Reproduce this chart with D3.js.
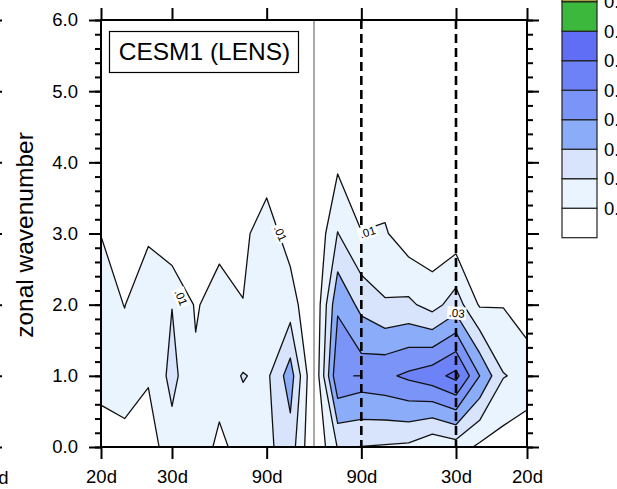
<!DOCTYPE html>
<html><head><meta charset="utf-8">
<script src="https://cdn.jsdelivr.net/npm/d3@7"></script>
<style>body{margin:0;background:#fff;overflow:hidden} text{font-family:'Liberation Sans',Arial,Helvetica,sans-serif}</style>
</head><body>
<svg id="c" width="617" height="489"></svg>
<script>
// ---------- data ----------
const wavenumbers = [0, 1, 2, 3, 4, 5, 6];
// frequency grid in cycles/day (resolution 1/180 cpd), westward negative, eastward positive
const freqSteps = [-9, -8, -7, -6, -5, -4, -3, -2, -1, 0, 1, 2, 3, 4, 5, 6, 7, 8, 9];
const freqResolution = 1 / 180;
// power for each wavenumber row, one value per frequency column
const power_wn0 = [0.0050,0.0060,0.0050,0.0160,0.0180,0.0070,0.0150,0.0176,0.0254,0,0.0205,0.0198,0.0190,0.0180,0.0120,0.0150,0.0080,0.0055,0.0020];
const power_wn1 = [0.0135,0.0160,0.0110,0.0230,0.0116,0.0155,0.0205,0.0178,0.0350,0,0.0490,0.0460,0.0480,0.0520,0.0560,0.0630,0.0400,0.0205,0.0174];
const power_wn2 = [0.0150,0.0097,0.0190,0.0198,0.0090,0.0145,0.0102,0.0150,0.0150,0,0.0383,0.0270,0.0210,0.0220,0.0160,0.0250,0.0089,0.0095,0.0030];
const power_wn3 = [0.0098,0.0050,0.0080,0.0020,0.0050,0.0066,0.0080,0.0147,0.0056,0,0.0203,0.0102,0.0110,0.0041,0.0030,0.0040,0.0040,0.0030,0.0020];
const power_wn4 = [0.0060,0.0040,0.0040,0.0030,0.0030,0.0035,0.0040,0.0053,0.0030,0,0.0080,0.0050,0.0045,0.0020,0.0015,0.0015,0.0015,0.0010,0.0010];
const power_wn5 = [0.0035,0.0030,0.0030,0.0025,0.0025,0.0030,0.0030,0.0035,0.0025,0,0.0040,0.0030,0.0030,0.0015,0.0010,0.0010,0.0010,0.0010,0.0008];
const power_wn6 = [0.0025,0.0020,0.0020,0.0020,0.0020,0.0020,0.0020,0.0025,0.0020,0,0.0030,0.0020,0.0020,0.0010,0.0010,0.0008,0.0008,0.0008,0.0005];
const levels = [0.01, 0.02, 0.03, 0.04, 0.05, 0.06, 0.07];
const levelColors = ['#eaf4fe', '#d8e3fc', '#8badf9', '#7b94f8', '#6c82f6', '#5f6ef5', '#3cb93c'];
const belowColor = '#ffffff';
const legendLabels = ['0.01', '0.02', '0.03', '0.04', '0.05', '0.06', '0.07', '0.08'];
const legendTopColor = '#a3a33c';
const periodTicks = [-20, -30, -90, 90, 30, 20];
const periodLabels = ['20d', '30d', '90d', '90d', '30d', '20d'];
const dashedPeriods = [90, 30];
const wnTicks = [0, 1, 2, 3, 4, 5, 6];
const contourLabels = [
  {freq: -0.0312, wn: 2.10, angle: 68, text: '.01'},
  {freq: -0.0079, wn: 3.00, angle: 66, text: '.01'},
  {freq: 0.0126, wn: 3.02, angle: -18, text: '.01'},
  {freq: 0.0335, wn: 1.88, angle: 5, text: '.03'}
];

// ---------- layout ----------
const svg = d3.select('#c');
const X0 = 101, X1 = 527, Y0 = 20, Y1 = 447;
const freqs = freqSteps.map(k => k * freqResolution);
const x = d3.scaleLinear().domain([-0.05, 0.05]).range([X0, X1]);
const y = d3.scaleLinear().domain([0, 6]).range([Y1, Y0]);

svg.append('defs').append('clipPath').attr('id', 'clip')
  .append('rect').attr('x', X0).attr('y', Y0).attr('width', X1 - X0).attr('height', Y1 - Y0);

// ---------- contours ----------
const rows = [power_wn0, power_wn1, power_wn2, power_wn3, power_wn4, power_wn5, power_wn6];
const nx = freqs.length, ny = wavenumbers.length;
const grid = rows.flat();
const colToFreq = d3.scaleLinear().domain([0.5, nx - 0.5]).range([freqs[0], freqs[nx - 1]]);
const rowToWn = d3.scaleLinear().domain([0.5, ny - 0.5]).range([wavenumbers[0], wavenumbers[ny - 1]]);
const proj = d3.geoTransform({point(px, py) { this.stream.point(x(colToFreq(px)), y(rowToWn(py))); }});
const path = d3.geoPath(proj);
const contours = d3.contours().size([nx, ny]).thresholds(levels)(grid);

const plot = svg.append('g').attr('clip-path', 'url(#clip)');
plot.append('rect').attr('x', X0).attr('y', Y0).attr('width', X1 - X0).attr('height', Y1 - Y0).attr('fill', belowColor);
plot.selectAll('path.fill').data(contours).join('path').attr('class', 'fill')
  .attr('d', path).attr('fill', (d, i) => levelColors[i]).attr('stroke', 'none');
plot.selectAll('path.line').data(contours).join('path').attr('class', 'line')
  .attr('d', path).attr('fill', 'none').attr('stroke', '#111').attr('stroke-width', 1.3).attr('stroke-linejoin', 'round');

// zero-frequency line
plot.append('line').attr('x1', x(0)).attr('x2', x(0)).attr('y1', Y0).attr('y2', Y1)
  .attr('stroke', '#555').attr('stroke-width', 1);

// dashed period lines
plot.selectAll('line.dash').data(dashedPeriods).join('line').attr('class', 'dash')
  .attr('x1', d => x(1 / d)).attr('x2', d => x(1 / d)).attr('y1', Y0).attr('y2', Y1)
  .attr('stroke', '#000').attr('stroke-width', 2.6).attr('stroke-dasharray', '9,5');

// small marker near 90d at wavenumber 1
plot.append('line').attr('x1', x(1 / 90) - 8).attr('x2', x(1 / 90)).attr('y1', y(1)).attr('y2', y(1))
  .attr('stroke', '#000').attr('stroke-width', 1.2);

// contour labels
contourLabels.forEach(l => {
  const g = svg.append('g').attr('transform', `translate(${x(l.freq)},${y(l.wn)}) rotate(${l.angle})`);
  g.append('rect').attr('x', -9.5).attr('y', -6.5).attr('width', 19).attr('height', 13).attr('fill', '#fff');
  g.append('text').attr('text-anchor', 'middle').attr('dy', '0.35em').attr('font-size', 11.5).text(l.text);
});

// ---------- axes ----------
const minorWn = d3.range(0, 6.001, 0.2);
function styleAxis(g) { g.select('.domain').remove(); g.selectAll('line').attr('stroke', '#000').attr('stroke-width', 2); }
const yAxisL = svg.append('g').attr('transform', `translate(${X0},0)`)
  .call(d3.axisLeft(y).tickValues(minorWn).tickSize(6).tickFormat(''));
styleAxis(yAxisL);
const yAxisL2 = svg.append('g').attr('transform', `translate(${X0},0)`)
  .call(d3.axisLeft(y).tickValues(wnTicks).tickSize(12).tickPadding(11).tickFormat(d3.format('.1f')));
styleAxis(yAxisL2);
yAxisL2.selectAll('text').attr('font-size', 18.5).attr('fill', '#000');
const yAxisR = svg.append('g').attr('transform', `translate(${X1},0)`)
  .call(d3.axisRight(y).tickValues(minorWn).tickSize(6).tickFormat(''));
styleAxis(yAxisR);
const yAxisR2 = svg.append('g').attr('transform', `translate(${X1},0)`)
  .call(d3.axisRight(y).tickValues(wnTicks).tickSize(12).tickFormat(''));
styleAxis(yAxisR2);
const xB = svg.append('g').attr('transform', `translate(0,${Y1})`)
  .call(d3.axisBottom(x).tickValues(periodTicks.map(p => 1 / p)).tickSize(12).tickPadding(11)
    .tickFormat((d, i) => periodLabels[i]));
styleAxis(xB);
xB.selectAll('text').attr('font-size', 18.5).attr('fill', '#000');
const xT = svg.append('g').attr('transform', `translate(0,${Y0})`)
  .call(d3.axisTop(x).tickValues(periodTicks.map(p => 1 / p)).tickSize(12).tickFormat(''));
styleAxis(xT);

// frame
svg.append('rect').attr('x', X0).attr('y', Y0).attr('width', X1 - X0).attr('height', Y1 - Y0)
  .attr('fill', 'none').attr('stroke', '#000').attr('stroke-width', 2);

// axis title
svg.append('text').attr('transform', `translate(33,235) rotate(-90)`)
  .attr('text-anchor', 'middle').attr('font-size', 24.5).text('zonal wavenumber');

// panel title box
const tb = svg.append('g');
tb.append('rect').attr('x', 109.5).attr('y', 31.5).attr('width', 189).attr('height', 41)
  .attr('fill', '#fff').attr('stroke', '#000').attr('stroke-width', 1.2);
tb.append('text').attr('x', 204.5).attr('y', 60).attr('text-anchor', 'middle').attr('font-size', 24.5).text('CESM1 (LENS)');

// ---------- neighbouring panel remnants at left edge ----------
const yN = svg.append('g').attr('transform', `translate(-12,0)`)
  .call(d3.axisRight(y).tickValues(wnTicks).tickSize(14).tickFormat(''));
styleAxis(yN);
svg.append('text').attr('x', -7).attr('y', 484).attr('text-anchor', 'middle').attr('font-size', 18.5).text('20d');

// ---------- label bar ----------
const LX = 562, LW = 35, LH = 29.5, LB = 237.7;
const legendColors = [belowColor, ...levelColors, legendTopColor];
const lg = svg.append('g');
legendColors.forEach((c, i) => {
  lg.append('rect').attr('x', LX).attr('y', LB - (i + 1) * LH).attr('width', LW).attr('height', LH)
    .attr('fill', c).attr('stroke', '#222').attr('stroke-width', 1.2);
});
legendLabels.forEach((t, i) => {
  lg.append('text').attr('x', LX + LW + 7).attr('y', LB - (i + 1) * LH).attr('dy', '0.35em')
    .attr('font-size', 18.5).text(t);
});
</script>
</body></html>
